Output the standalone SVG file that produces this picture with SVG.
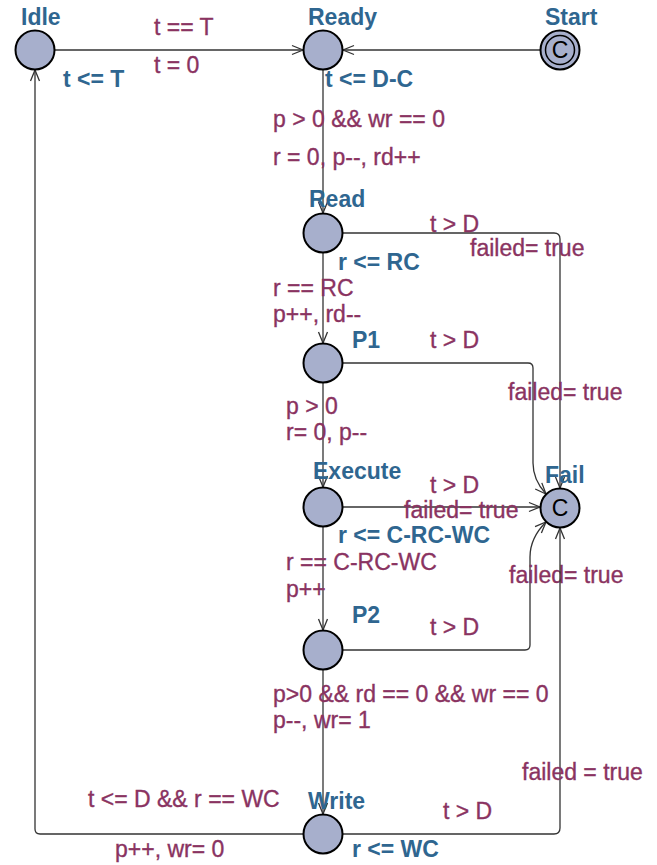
<svg xmlns="http://www.w3.org/2000/svg" width="657" height="865" viewBox="0 0 657 865">
<style>
.loc{fill:#a7afcc;stroke:#000;stroke-width:2}
.name{font-family:"Liberation Sans",Arial,sans-serif;font-size:23px;font-weight:bold;fill:#2f6690}
.inv{font-family:"Liberation Sans",Arial,sans-serif;font-size:23px;font-weight:bold;fill:#2f6690}
.lbl{font-family:"Liberation Sans",Arial,sans-serif;font-size:23px;fill:#8a3361;stroke:#8a3361;stroke-width:0.35}
.cmt{font-family:"Liberation Sans",Arial,sans-serif;font-size:23px;fill:#000;text-anchor:middle}
.edge{fill:none;stroke:#333;stroke-width:1.3;marker-end:url(#arr)}
</style>
<defs>
<marker id="arr" markerUnits="userSpaceOnUse" markerWidth="14" markerHeight="12" refX="12" refY="5" orient="auto" viewBox="0 0 14 10">
<path d="M1,0.5 L12,5 L1,9.5" fill="none" stroke="#333" stroke-width="1.3"/>
</marker>
</defs>
<rect width="657" height="865" fill="#fff"/>
<g id="connectors">
<g id="e-idle-ready"><path class="edge" d="M55,50 H303"/><text class="lbl" x="154" y="35">t == T</text><text class="lbl" x="154" y="73">t = 0</text></g>
<g id="e-start-ready"><path class="edge" d="M540,50 H343"/></g>
<g id="e-ready-read"><path class="edge" d="M323,70 V213"/><text class="lbl" x="273" y="127">p &gt; 0 &amp;&amp; wr == 0</text><text class="lbl" x="273" y="165">r = 0, p--, rd++</text></g>
<g id="e-read-p1"><path class="edge" d="M323,253 V343"/><text class="lbl" x="273" y="296">r == RC</text><text class="lbl" x="273" y="322">p++, rd--</text></g>
<g id="e-p1-execute"><path class="edge" d="M323,383 V487"/><text class="lbl" x="286" y="414">p &gt; 0</text><text class="lbl" x="286" y="440">r= 0, p--</text></g>
<g id="e-execute-p2"><path class="edge" d="M323,527 V630"/><text class="lbl" x="286" y="570">r == C-RC-WC</text><text class="lbl" x="286" y="597">p++</text></g>
<g id="e-p2-write"><path class="edge" d="M323,670 V814"/><text class="lbl" x="273" y="702">p&gt;0 &amp;&amp; rd == 0 &amp;&amp; wr == 0</text><text class="lbl" x="273" y="728">p--, wr= 1</text></g>
<g id="e-write-idle"><path class="edge" d="M303,834 H40 Q35,834 35,829 V70"/><text class="lbl" x="88" y="807">t &lt;= D &amp;&amp; r == WC</text><text class="lbl" x="115" y="857">p++, wr= 0</text></g>
<g id="e-read-fail"><path class="edge" d="M343,233 H554 Q560,233 560,239 V488"/><text class="lbl" x="430" y="232">t &gt; D</text><text class="lbl" x="470" y="256">failed= true</text></g>
<g id="e-p1-fail"><path class="edge" d="M343,363 H528 Q533,363 533,368 V463 Q533,480 546,494"/><text class="lbl" x="430" y="348">t &gt; D</text><text class="lbl" x="508" y="400">failed= true</text></g>
<g id="e-execute-fail"><path class="edge" d="M343,507 H540"/><text class="lbl" x="430" y="493">t &gt; D</text><text class="lbl" x="404" y="518">failed= true</text></g>
<g id="e-p2-fail"><path class="edge" d="M343,650 H525 Q530,650 530,645 V557 Q530,538 546,522"/><text class="lbl" x="430" y="635">t &gt; D</text><text class="lbl" x="509" y="583">failed= true</text></g>
<g id="e-write-fail"><path class="edge" d="M343,834 H554 Q560,834 560,828 V528"/><text class="lbl" x="443" y="819">t &gt; D</text><text class="lbl" x="522" y="780">failed = true</text></g>
</g>
<g id="Idle"><circle class="loc" cx="35" cy="50" r="19.5"/><text class="name" x="21" y="25">Idle</text><text class="inv" x="63" y="87">t &lt;= T</text></g>
<g id="Ready"><circle class="loc" cx="323" cy="50" r="19.5"/><text class="name" x="308" y="25">Ready</text><text class="inv" x="325" y="87">t &lt;= D-C</text></g>
<g id="Start"><circle class="loc" cx="560" cy="50" r="19.5"/><circle cx="560" cy="50" r="14.5" fill="none" stroke="#000" stroke-width="1.5"/><text class="cmt" x="560" y="58">C</text><text class="name" x="545" y="25">Start</text></g>
<g id="Read"><circle class="loc" cx="323" cy="233" r="19.5"/><text class="name" x="309" y="207">Read</text><text class="inv" x="338" y="270">r &lt;= RC</text></g>
<g id="P1"><circle class="loc" cx="323" cy="363" r="19.5"/><text class="name" x="352" y="348">P1</text></g>
<g id="Execute"><circle class="loc" cx="323" cy="507" r="19.5"/><text class="name" x="313" y="479">Execute</text><text class="inv" x="338" y="543">r &lt;= C-RC-WC</text></g>
<g id="Fail"><circle class="loc" cx="560" cy="508" r="19.5"/><text class="cmt" x="560" y="516">C</text><text class="name" x="545" y="483">Fail</text></g>
<g id="P2"><circle class="loc" cx="323" cy="650" r="19.5"/><text class="name" x="352" y="623">P2</text></g>
<g id="Write"><circle class="loc" cx="323" cy="834" r="19.5"/><text class="name" x="308" y="809">Write</text><text class="inv" x="352" y="857">r &lt;= WC</text></g>
</svg>
